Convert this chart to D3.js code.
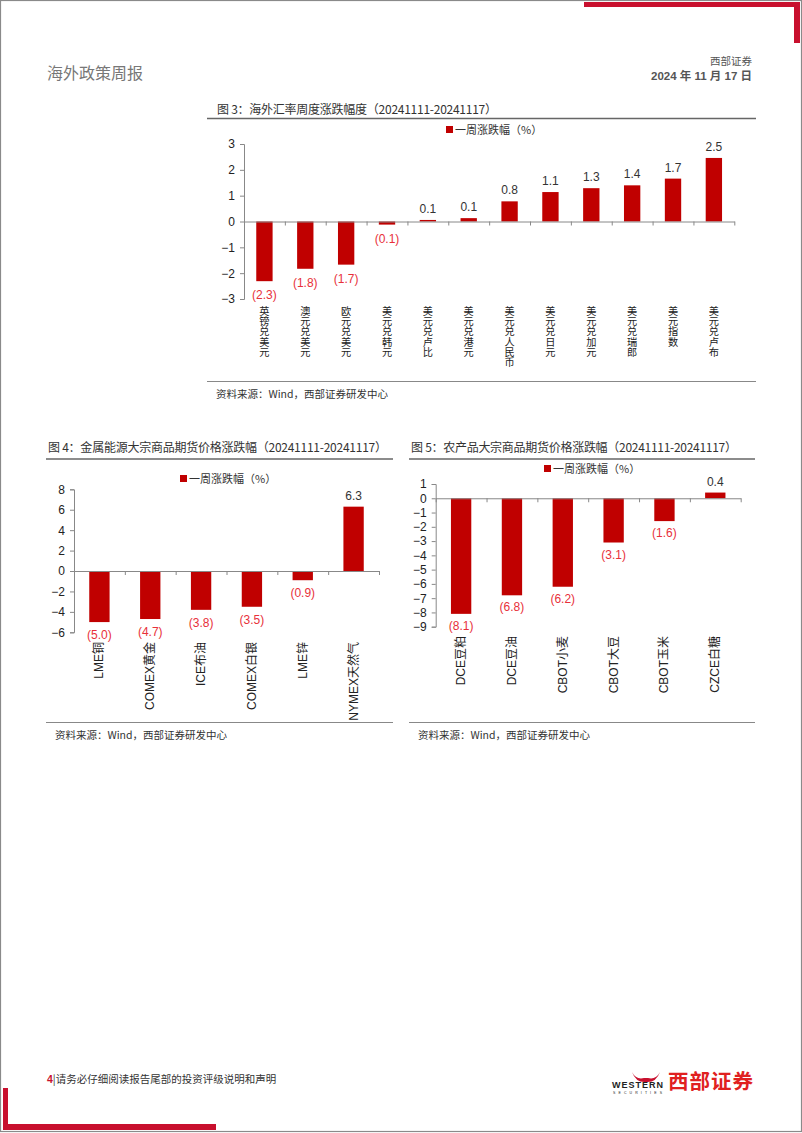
<!DOCTYPE html>
<html><head><meta charset="utf-8">
<script src="https://cdn.jsdelivr.net/npm/d3@7"></script>
<style>
body{margin:0;background:#fff;}
svg{display:block;}
text{font-family:"Liberation Sans","Noto Sans CJK SC",sans-serif;}
.vlabel{writing-mode:vertical-rl;text-orientation:upright;}
</style></head>
<body><svg id="page" width="802" height="1133"></svg>
<script>
// ---------- data ----------
const fig3Categories = ["英镑兑美元","澳元兑美元","欧元兑美元","美元兑韩元","美元兑卢比","美元兑港元","美元兑人民币","美元兑日元","美元兑加元","美元兑瑞郎","美元指数","美元兑卢布"];
const fig3Values = [-2.31,-1.83,-1.67,-0.12,0.06,0.13,0.78,1.14,1.29,1.40,1.66,2.46];
const fig3Ticks = [-3,-2,-1,0,1,2,3];

const fig4Categories = ["LME铜","COMEX黄金","ICE布油","COMEX白银","LME锌","NYMEX天然气"];
const fig4Values = [-5.0,-4.7,-3.8,-3.5,-0.9,6.3];
const fig4Ticks = [-6,-4,-2,0,2,4,6,8];

const fig5Categories = ["DCE豆粕","DCE豆油","CBOT小麦","CBOT大豆","CBOT玉米","CZCE白糖"];
const fig5Values = [-8.1,-6.8,-6.2,-3.1,-1.6,0.4];
const fig5Ticks = [-9,-8,-7,-6,-5,-4,-3,-2,-1,0,1];

const seriesName = "一周涨跌幅（%）";
const sourceText = "资料来源：Wind，西部证券研发中心";
const titles = ["图 3：海外汇率周度涨跌幅度（20241111-20241117）",
                "图 4：金属能源大宗商品期货价格涨跌幅（20241111-20241117）",
                "图 5：农产品大宗商品期货价格涨跌幅（20241111-20241117）"];

// ---------- page ----------
const svg = d3.select("#page");
const RED = "#c00000";
const CJK = "'Noto Sans CJK SC',sans-serif";
svg.append("rect").attr("x",0.5).attr("y",0.5).attr("width",801).attr("height",1131)
  .attr("fill","#fff").attr("stroke","#8a8a8a").attr("stroke-width",1.2);
// decorative corners
svg.append("rect").attr("x",584).attr("y",2).attr("width",216).attr("height",5).attr("fill","#c8102e");
svg.append("rect").attr("x",794).attr("y",2).attr("width",6).attr("height",41).attr("fill","#c8102e");
svg.append("rect").attr("x",3).attr("y",1088).attr("width",5).attr("height",42).attr("fill","#c8102e");
svg.append("rect").attr("x",3).attr("y",1124).attr("width",213).attr("height",6).attr("fill","#c8102e");

// header
svg.append("text").attr("x",47).attr("y",79).attr("font-size",16).attr("fill","#777")
  .style("font-family",CJK).attr("textLength",96).text("海外政策周报");
svg.append("text").attr("x",752).attr("y",65).attr("text-anchor","end").attr("font-size",10.5)
  .attr("fill","#555").style("font-family",CJK).text("西部证券");
svg.append("text").attr("x",752).attr("y",80).attr("text-anchor","end").attr("font-size",11.5)
  .attr("font-weight","bold").attr("fill","#555").text("2024 年 11 月 17 日");

// footer
const ft = svg.append("text").attr("x",47).attr("y",1083).attr("font-size",10.5).attr("fill","#333");
ft.append("tspan").attr("fill","#c8102e").attr("font-weight","bold").text("4");
ft.append("tspan").style("font-family",CJK).text("|请务必仔细阅读报告尾部的投资评级说明和声明");
// logo
svg.append("path").attr("d","M 632 1072 Q 636 1080 644 1078 L 648 1078 Q 656 1080 660 1072 Q 656 1083 646 1082 Q 636 1083 632 1072 Z")
  .attr("fill","#c8102e");
svg.append("text").attr("x",612).attr("y",1088).attr("font-size",9).attr("font-weight","bold")
  .attr("fill","#222").attr("textLength",51).text("WESTERN");
svg.append("text").attr("x",613).attr("y",1094).attr("font-size",3.5).attr("fill","#222")
  .attr("textLength",49).text("SECURITIES");
svg.append("text").attr("x",668).attr("y",1089).attr("font-size",20.5).attr("font-weight","bold")
  .attr("fill","#e02020").style("font-family",CJK).attr("textLength",85).text("西部证券");

// ---------- chart builder ----------
function drawChart(o){
  const g = svg.append("g");
  // title
  g.append("text").attr("x",o.titleX).attr("y",o.titleY).attr("font-size",12).attr("fill","#333")
    .style("font-family",CJK).attr("textLength",o.titleW).attr("lengthAdjust","spacing").text(o.title);
  g.append("line").attr("x1",o.lineX1).attr("x2",o.lineX2).attr("y1",o.titleLineY).attr("y2",o.titleLineY)
    .attr("stroke","#666").attr("stroke-width",1.3);
  // source
  g.append("line").attr("x1",o.lineX1).attr("x2",o.lineX2).attr("y1",o.srcLineY).attr("y2",o.srcLineY)
    .attr("stroke","#888").attr("stroke-width",1.2);
  g.append("text").attr("x",o.lineX1+9).attr("y",o.srcLineY+16).attr("font-size",10.5).attr("fill","#333")
    .style("font-family",CJK).text(o.source);

  const x = d3.scaleBand().domain(o.categories).range([o.x0,o.x1]).paddingInner(o.pad).paddingOuter(o.pad/2);
  const xi = d3.scaleLinear().domain([0,o.categories.length]).range([o.x0,o.x1]);
  const y = d3.scaleLinear().domain(d3.extent(o.ticks)).range([o.yBottom,o.yTop]);

  // legend
  const lg = g.append("g");
  lg.append("rect").attr("x",o.legX).attr("y",o.legY-4).attr("width",7).attr("height",7).attr("fill",RED);
  lg.append("text").attr("x",o.legX+9).attr("y",o.legY+4).attr("font-size",11).attr("fill","#333")
    .style("font-family",CJK).text(o.series);

  // y axis
  const ya = g.append("g").attr("transform",`translate(${o.x0},0)`)
    .call(d3.axisLeft(y).tickValues(o.ticks).tickSize(4).tickPadding(5).tickFormat(d3.format("d")));
  ya.select(".domain").attr("stroke","#888");
  ya.selectAll(".tick line").attr("stroke","#888");
  ya.selectAll(".tick text").attr("font-size",12).attr("fill","#222").style("font-family","'Liberation Sans',sans-serif");

  // bars
  g.selectAll(".bar").data(o.values).join("rect")
    .attr("x",(d,i)=>x(o.categories[i]))
    .attr("width",x.bandwidth())
    .attr("y",d=>y(Math.max(0,d)))
    .attr("height",d=>Math.abs(y(d)-y(0)))
    .attr("fill",RED);

  // x axis at zero
  const xa = g.append("g").attr("transform",`translate(0,${y(0)})`)
    .call(d3.axisBottom(xi).tickValues(d3.range(o.categories.length+1)).tickSize(4).tickSizeOuter(0).tickFormat(""));
  xa.select(".domain").attr("stroke","#888");
  xa.selectAll(".tick line").attr("stroke","#888");

  // value labels
  const fmt = d3.format(".1f");
  g.selectAll(".vl").data(o.values).join("text")
    .attr("x",(d,i)=>x(o.categories[i])+x.bandwidth()/2)
    .attr("y",d=> d>=0 ? y(d)-7 : y(d)+o.negOff)
    .attr("text-anchor","middle").attr("font-size",12)
    .attr("fill",d=> d>=0 ? "#333" : "#e8303a")
    .style("font-family","'Liberation Sans',sans-serif")
    .text(d=> d>=0 ? fmt(d) : "("+fmt(Math.abs(d))+")");

  // category labels
  if(o.vertical){
    g.selectAll(".cl").data(o.categories).join("text")
      .attr("class","vlabel")
      .attr("x",d=>x(d)+x.bandwidth()/2)
      .attr("y",o.labelY)
      .attr("font-size",10.2).attr("fill","#222").style("font-family",CJK)
      .text(d=>d);
  } else {
    g.selectAll(".cl").data(o.categories).join("text")
      .attr("transform",d=>`translate(${x(d)+x.bandwidth()/2+4},${o.labelY}) rotate(-90)`)
      .attr("text-anchor","end").attr("font-size",12).attr("fill","#222")
      .text(d=>d);
  }
}

drawChart({title:titles[0],titleX:217,titleY:114,titleW:280,lineX1:207,lineX2:756,titleLineY:118.5,srcLineY:381.5,
  source:sourceText,series:seriesName,categories:fig3Categories,values:fig3Values,ticks:fig3Ticks,
  x0:244,x1:734.3,yTop:144,yBottom:299,pad:0.6,legX:446,legY:130,labelY:306,vertical:true,negOff:18});

drawChart({title:titles[1],titleX:48,titleY:452,titleW:339,lineX1:46,lineX2:393,titleLineY:459,srcLineY:722.5,
  source:sourceText,series:seriesName,categories:fig4Categories,values:fig4Values,ticks:fig4Ticks,
  x0:74,x1:379,yTop:489.3,yBottom:632.3,pad:0.6,legX:180,legY:479,labelY:642,vertical:false,negOff:17});

drawChart({title:titles[2],titleX:411,titleY:452,titleW:326,lineX1:409,lineX2:755,titleLineY:459,srcLineY:722.5,
  source:sourceText,series:seriesName,categories:fig5Categories,values:fig5Values,ticks:fig5Ticks,
  x0:435.7,x1:740.7,yTop:484,yBottom:626.7,pad:0.6,legX:544,legY:469,labelY:636,vertical:false,negOff:16});
</script></body></html>
